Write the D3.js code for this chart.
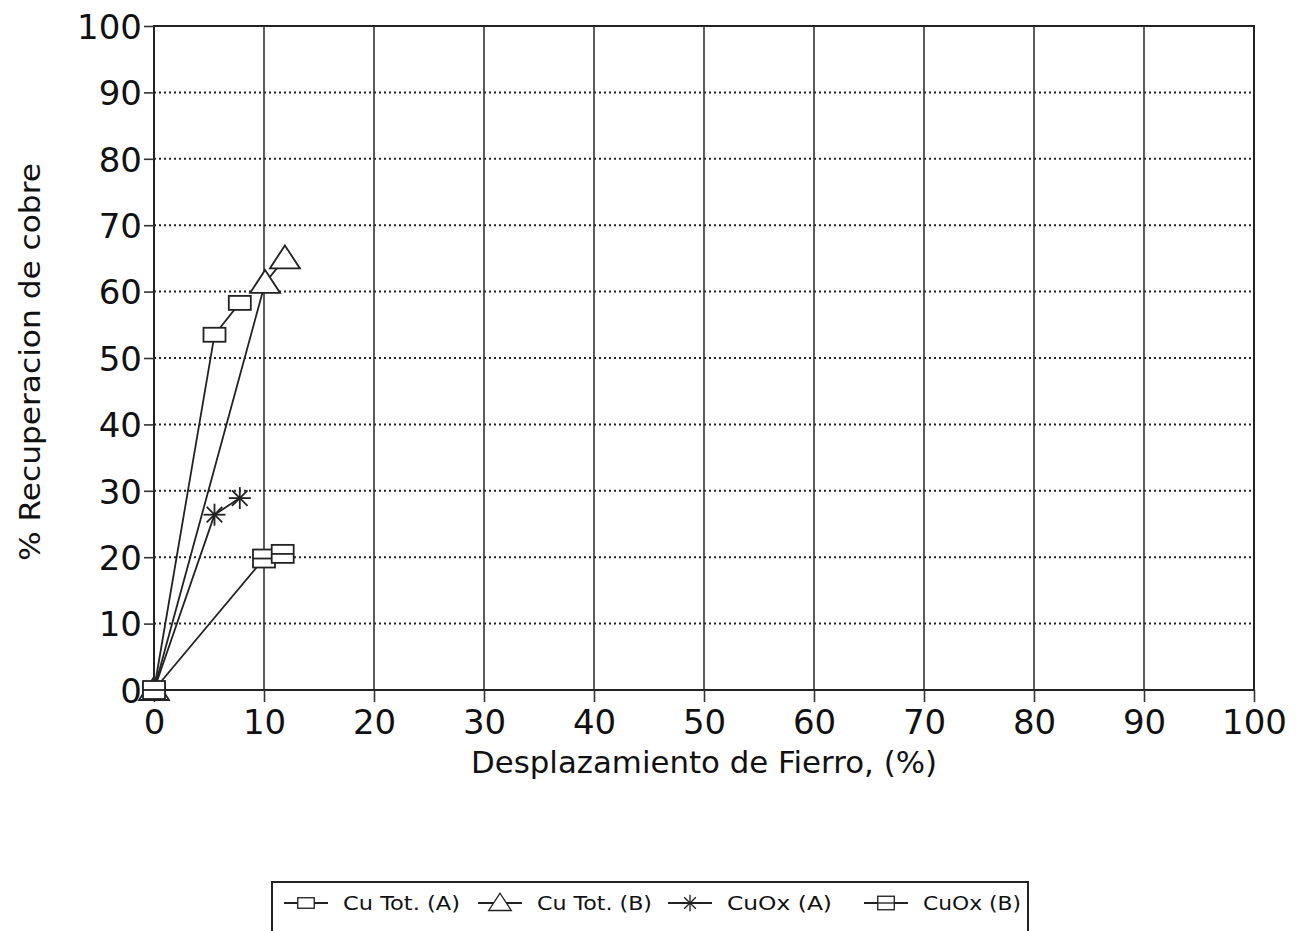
<!DOCTYPE html>
<html>
<head>
<meta charset="utf-8">
<script src="https://cdn.jsdelivr.net/npm/d3@7"></script>
<style>
  body { margin: 0; background: #fff; }
  svg text { font-family: "DejaVu Sans", "Liberation Sans", sans-serif; fill: #111; }
</style>
</head>
<body>
<div id="chart"></div>
<script>
// series names, x values (% Fe displaced) and y values (% Cu recovered)
var seriesNames = ["Cu Tot. (A)", "Cu Tot. (B)", "CuOx (A)", "CuOx (B)"];
var cuTotA_x = [0, 5.5, 7.8],  cuTotA_y = [0, 53.5, 58.3];
var cuTotB_x = [0, 10.1, 11.9], cuTotB_y = [0, 61.3, 65];
var cuOxA_x  = [0, 5.5, 7.8],  cuOxA_y  = [0, 26.4, 28.9];
var cuOxB_x  = [0, 10, 11.7],  cuOxB_y  = [0, 19.8, 20.5];
var xTicks = [0, 10, 20, 30, 40, 50, 60, 70, 80, 90, 100];
var yTicks = [0, 10, 20, 30, 40, 50, 60, 70, 80, 90, 100];

var width = 1298, height = 931;

var svg = d3.select("#chart")
  .append("svg")
  .attr("width", width)
  .attr("height", height);

var x = d3.scaleLinear().domain([0, 100]).range([154, 1254]);
var y = d3.scaleLinear().domain([0, 100]).range([690, 26]);

// horizontal dotted grid
svg.selectAll(".hgrid")
  .data(yTicks.filter(function(d) { return d > 0 && d < 100; }))
  .enter().append("line")
  .attr("x1", x(0)).attr("x2", x(100))
  .attr("y1", function(d) { return y(d); })
  .attr("y2", function(d) { return y(d); })
  .attr("stroke", "#222")
  .attr("stroke-width", 2)
  .attr("stroke-dasharray", "2,3");

// vertical solid grid
svg.selectAll(".vgrid")
  .data(xTicks.filter(function(d) { return d > 0 && d < 100; }))
  .enter().append("line")
  .attr("x1", function(d) { return x(d); })
  .attr("x2", function(d) { return x(d); })
  .attr("y1", y(100)).attr("y2", y(0))
  .attr("stroke", "#333")
  .attr("stroke-width", 1.6);

// frame
svg.append("rect")
  .attr("x", x(0)).attr("y", y(100))
  .attr("width", x(100) - x(0)).attr("height", y(0) - y(100))
  .attr("fill", "none")
  .attr("stroke", "#222")
  .attr("stroke-width", 2);

// axes
var xAxis = svg.append("g")
  .attr("transform", "translate(0," + y(0) + ")")
  .call(d3.axisBottom(x).tickValues(xTicks).tickSize(12).tickPadding(8));
var yAxis = svg.append("g")
  .attr("transform", "translate(" + x(0) + ",0)")
  .call(d3.axisLeft(y).tickValues(yTicks).tickSize(10).tickPadding(2));

[xAxis, yAxis].forEach(function(g) {
  g.select(".domain").remove();
  g.selectAll(".tick line").attr("stroke", "#333").attr("stroke-width", 1.6);
  g.selectAll(".tick text")
    .style("font-family", "'DejaVu Sans', sans-serif")
    .style("font-size", "34px")
    .attr("fill", "#111");
});
xAxis.selectAll(".tick text").attr("dy", "0.72em");
yAxis.selectAll(".tick text").attr("dy", "0.36em");

// axis titles
svg.append("text")
  .attr("x", 704).attr("y", 773)
  .attr("text-anchor", "middle")
  .attr("textLength", 466)
  .attr("lengthAdjust", "spacingAndGlyphs")
  .style("font-size", "30px")
  .text("Desplazamiento de Fierro, (%)");

svg.append("text")
  .attr("transform", "translate(40,362) rotate(-90)")
  .attr("text-anchor", "middle")
  .attr("textLength", 398)
  .attr("lengthAdjust", "spacingAndGlyphs")
  .style("font-size", "28px")
  .text("% Recuperacion de cobre");

// marker shapes
function marker(g, kind) {
  if (kind === 0) {
    g.append("rect").attr("x", -11).attr("y", -7).attr("width", 22).attr("height", 14);
  } else if (kind === 1) {
    g.append("path").attr("d", "M0,-13L15,10L-15,10Z");
  } else if (kind === 2) {
    [0, 45, 90, 135].forEach(function(a) {
      g.append("line").attr("x1", -11).attr("x2", 11).attr("y1", 0).attr("y2", 0)
        .attr("transform", "rotate(" + a + ")");
    });
  } else {
    g.append("rect").attr("x", -11).attr("y", -9).attr("width", 22).attr("height", 18);
    g.append("line").attr("x1", -11).attr("x2", 11).attr("y1", 0).attr("y2", 0);
  }
  g.selectAll("*").attr("fill", kind === 2 ? "none" : "#fff").attr("stroke", "#222").attr("stroke-width", 1.8);
}

var seriesX = [cuTotA_x, cuTotB_x, cuOxA_x, cuOxB_x];
var seriesY = [cuTotA_y, cuTotB_y, cuOxA_y, cuOxB_y];

var line = d3.line()
  .x(function(d) { return x(d[0]); })
  .y(function(d) { return y(d[1]); });

seriesX.forEach(function(xs, i) {
  var pts = xs.map(function(v, j) { return [v, seriesY[i][j]]; });
  svg.append("path")
    .attr("d", line(pts))
    .attr("fill", "none")
    .attr("stroke", "#222")
    .attr("stroke-width", 1.8);
});

seriesX.forEach(function(xs, i) {
  xs.forEach(function(v, j) {
    var g = svg.append("g")
      .attr("transform", "translate(" + x(v) + "," + y(seriesY[i][j]) + ")");
    marker(g, i);
  });
});

// legend
var legend = svg.append("g");
legend.append("rect")
  .attr("x", 272).attr("y", 882)
  .attr("width", 756).attr("height", 60)
  .attr("fill", "#fff")
  .attr("stroke", "#222")
  .attr("stroke-width", 2);

var legendX = [306, 500, 690, 886];
var legendTextW = [117, 115, 105, 98];
seriesNames.forEach(function(name, i) {
  var lx = legendX[i], ly = 903;
  legend.append("line")
    .attr("x1", lx - 22).attr("x2", lx + 22)
    .attr("y1", ly).attr("y2", ly)
    .attr("stroke", "#222").attr("stroke-width", 1.8);
  var g = legend.append("g")
    .attr("transform", "translate(" + lx + "," + ly + ") scale(0.75)");
  marker(g, i);
  legend.append("text")
    .attr("x", lx + 37).attr("y", ly + 7)
    .attr("textLength", legendTextW[i])
    .attr("lengthAdjust", "spacingAndGlyphs")
    .style("font-size", "20px")
    .text(name);
});
</script>
</body>
</html>
